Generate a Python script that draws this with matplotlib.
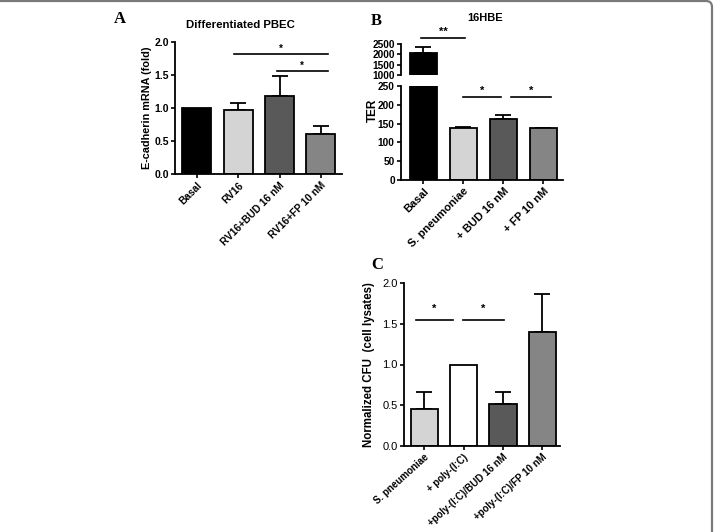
import matplotlib
matplotlib.use("Agg")
import matplotlib.pyplot as plt
from matplotlib.patches import FancyBboxPatch
import numpy as np

plt.rcParams['font.family'] = ['Liberation Sans', 'DejaVu Sans']

# ---------------- data ----------------
a_labels = ["Basal", "RV16", "RV16+BUD 16 nM", "RV16+FP 10 nM"]
a_values = [1.0, 0.97, 1.18, 0.60]
a_err = [0.0, 0.11, 0.30, 0.12]
a_colors = ["#000000", "#d4d4d4", "#595959", "#858585"]

b_labels = ["Basal", "S. pneumoniae", "+ BUD 16 nM", "+ FP 10 nM"]
b_values = [2080, 137, 162, 137]
b_err = [270, 3, 12, 2]
b_colors = ["#000000", "#d4d4d4", "#595959", "#858585"]

c_labels = ["S. pneumoniae", "+ poly-(I:C)", "+poly-(I:C)/BUD 16 nM", "+poly-(I:C)/FP 10 nM"]
c_values = [0.45, 1.0, 0.52, 1.40]
c_err = [0.21, 0.0, 0.14, 0.47]
c_colors = ["#d4d4d4", "#ffffff", "#595959", "#858585"]

W, H = 714, 532
fig = plt.figure(figsize=(W / 100, H / 100), dpi=100)


def pax(l, r, top, bot):
    return fig.add_axes([l / W, 1 - bot / H, (r - l) / W, (bot - top) / H])


def style(ax, bold=True, fs=7):
    for s in ("top", "right"):
        ax.spines[s].set_visible(False)
    for s in ("left", "bottom"):
        ax.spines[s].set_linewidth(1.3)
    ax.tick_params(axis="both", direction="out", length=3, width=1.2, labelsize=fs, pad=1.5)
    for t in ax.get_yticklabels():
        t.set_fontweight("bold" if bold else "normal")


def bars(ax, vals, errs, cols, width):
    x = np.arange(len(vals))
    ax.bar(x, vals, width=width, color=cols, edgecolor="black", linewidth=1.3, zorder=2)
    for xi, v, e in zip(x, vals, errs):
        if e > 0:
            ax.errorbar(xi, v, yerr=[[0], [e]], fmt="none", ecolor="black",
                        elinewidth=1.3, capsize=5.5, capthick=1.3, zorder=1)
    return x


def xlabels(ax, labels, fs=6.5, rot=45):
    ax.set_xticks(np.arange(len(labels)))
    ax.set_xticklabels(labels, rotation=rot, ha="right", rotation_mode="anchor",
                       fontsize=fs, fontweight="bold")


def sig(ax, x0, x1, y, ys, txt, fs=7):
    ax.plot([x0, x1], [y, y], color="black", lw=1.2, clip_on=False)
    ax.text((x0 + x1) / 2, ys, txt, ha="center", va="center", fontsize=fs,
            fontweight="bold", clip_on=False)


# ---------------- panel A ----------------
axA = pax(175, 342, 42, 174)
bars(axA, a_values, a_err, a_colors, 0.70)
axA.set_xlim(-0.53, 3.51)
axA.set_ylim(0, 2.0)
axA.set_yticks([0.0, 0.5, 1.0, 1.5, 2.0])
axA.set_yticklabels(["0.0", "0.5", "1.0", "1.5", "2.0"])
style(axA, bold=True, fs=7.5)
xlabels(axA, a_labels, 7.3, 45)
axA.set_ylabel("E-cadherin mRNA (fold)", fontsize=7.8, fontweight="bold", labelpad=1.5)
fig.text(240 / W, 1 - 25 / H, "Differentiated PBEC", fontsize=8.2, fontweight="bold",
         ha="center", va="center")
sig(axA, 0.9, 3.17, 1.82, 1.89, "*", 7)
sig(axA, 1.93, 3.17, 1.56, 1.64, "*", 7)
fig.text(114 / W, 1 - 19 / H, "A", fontsize=12, fontweight="bold",
         family="Liberation Serif", va="center")

# ---------------- panel B (broken axis) ----------------
b_xlim = (-0.56, 3.49)
axBl = pax(401, 563, 86, 180)
axBu = pax(401, 563, 44, 75)
for ax in (axBl, axBu):
    bars(ax, b_values, b_err, b_colors, 0.68)
    ax.set_xlim(*b_xlim)
axBl.set_ylim(0, 250)
axBl.set_yticks([0, 50, 100, 150, 200, 250])
axBu.set_ylim(1000, 2500)
axBu.set_yticks([1000, 1500, 2000, 2500])
style(axBl, bold=True, fs=7.3)
style(axBu, bold=True, fs=7.3)
axBu.spines["bottom"].set_visible(False)
axBu.set_xticks([])
xlabels(axBl, b_labels, 8, 45)
fig.text(373 / W, 1 - 110 / H, "TER", rotation=90, fontsize=8.5, fontweight="bold",
         ha="center", va="center")
fig.text(485 / W, 1 - 18 / H, "16HBE", fontsize=8, fontweight="bold", ha="center", va="center")
sig(axBu, -0.05, 1.05, 2790, 3090, "**", 8)
sig(axBl, 1.0, 1.95, 221, 238, "*", 8)
sig(axBl, 2.2, 3.2, 221, 238, "*", 8)
fig.text(371 / W, 1 - 21 / H, "B", fontsize=12, fontweight="bold",
         family="Liberation Serif", va="center")

# ---------------- panel C ----------------
axC = pax(404, 560, 283, 446)
bars(axC, c_values, c_err, c_colors, 0.69)
axC.set_xlim(-0.52, 3.45)
axC.set_ylim(0, 2.0)
axC.set_yticks([0.0, 0.5, 1.0, 1.5, 2.0])
axC.set_yticklabels(["0.0", "0.5", "1.0", "1.5", "2.0"])
style(axC, bold=False, fs=8)
xlabels(axC, c_labels, 7, 42)
axC.set_ylabel("Normalized CFU  (cell lysates)", fontsize=8.3, fontweight="bold", labelpad=5)
sig(axC, -0.22, 0.72, 1.54, 1.68, "*", 8)
sig(axC, 0.98, 2.03, 1.54, 1.68, "*", 8)
fig.text(371 / W, 1 - 265 / H, "C", fontsize=12, fontweight="bold",
         family="Liberation Serif", va="center")

# ---------------- frame ----------------
frame = FancyBboxPatch((-30, -30), 742, 561,
                       boxstyle="round,pad=0,rounding_size=6",
                       transform=None, facecolor="none", edgecolor="#7a7a7a",
                       linewidth=1.6, clip_on=False)
fig.add_artist(frame)

fig.savefig("out.png", dpi=100)
